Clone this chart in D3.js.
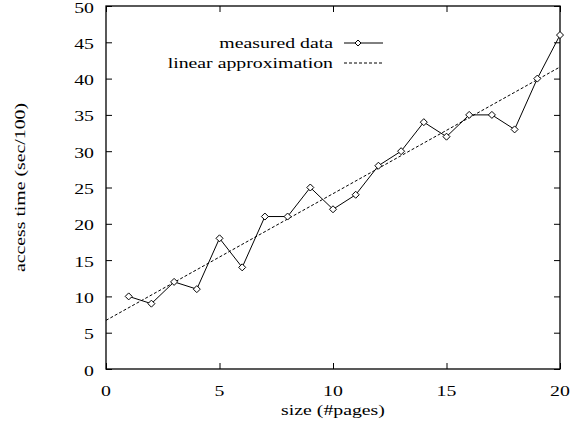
<!DOCTYPE html>
<html>
<head>
<meta charset="utf-8">
<script src="https://cdn.jsdelivr.net/npm/d3@7"></script>
<style>
  body { margin: 0; background: #fff; }
  text { font-family: "Liberation Serif", "DejaVu Serif", serif; fill: #000; }
</style>
</head>
<body>
<div class="mainDiv"></div>
<script>
// data
const pages = [1,2,3,4,5,6,7,8,9,10,11,12,13,14,15,16,17,18,19,20];
const accessTime = [10,9,12,11,18,14,21,21,25,22,24,28,30,34,32,35,35,33,40,46];
const fitX = [0, 20];
const fitY = [6.7, 41.6];
const xTicks = [0,5,10,15,20];
const yTicks = [0,5,10,15,20,25,30,35,40,45,50];
const legendLabels = ["measured data", "linear approximation"];

const W = 570, H = 425;
const margin = {top: 6, right: 10, bottom: 56, left: 106};

const svg = d3.select('.mainDiv').append('svg')
  .attr('width', W).attr('height', H);

const x = d3.scaleLinear().domain([0, 20]).range([margin.left, W - margin.right]);
const y = d3.scaleLinear().domain([0, 50]).range([H - margin.bottom, margin.top]);

const fontSize = 15;
const stretch = 1.32;  // the original font is wide, stretch it horizontally
const tickLen = 6;

// text helper: wide serif text
function label(px, py, str, anchor, rot) {
  return svg.append('text')
    .attr('transform', `translate(${px},${py})` + (rot ? ` rotate(${rot})` : '') + ` scale(${stretch},1)`)
    .attr('text-anchor', anchor)
    .attr('font-size', fontSize)
    .text(str);
}

// axes (gnuplot style: ticks inside, mirrored on all sides)
svg.append('g')
  .attr('transform', `translate(0,${y(0)})`)
  .call(d3.axisBottom(x).tickValues(xTicks).tickSize(-tickLen).tickFormat(''));
svg.append('g')
  .attr('transform', `translate(0,${y(50)})`)
  .call(d3.axisTop(x).tickValues(xTicks).tickSize(-tickLen).tickFormat(''));
svg.append('g')
  .attr('transform', `translate(${x(0)},0)`)
  .call(d3.axisLeft(y).tickValues(yTicks).tickSize(-tickLen).tickFormat(''));
svg.append('g')
  .attr('transform', `translate(${x(20)},0)`)
  .call(d3.axisRight(y).tickValues(yTicks).tickSize(-tickLen).tickFormat(''));
svg.selectAll('.domain').remove();
svg.selectAll('.tick line').attr('stroke', '#000');

// tick labels
xTicks.forEach(v => label(x(v), 396, v, 'middle'));
yTicks.forEach(v => label(94, y(v) + 6.5, v, 'end'));

// frame
svg.append('rect')
  .attr('x', x(0)).attr('y', y(50))
  .attr('width', x(20) - x(0)).attr('height', y(0) - y(50))
  .attr('fill', 'none').attr('stroke', '#000').attr('stroke-width', 1.3);

// axis titles
label(x(10), 415, 'size (#pages)', 'middle');
label(25, (y(0) + y(50)) / 2, 'access time (sec/100)', 'middle', -90);

// linear approximation
const line = d3.line().x(d => x(d[0])).y(d => y(d[1]));
svg.append('path')
  .datum(fitX.map((v, i) => [v, fitY[i]]))
  .attr('d', line)
  .attr('fill', 'none').attr('stroke', '#000')
  .attr('stroke-width', 1).attr('stroke-dasharray', '3,2');

// measured data
const pts = pages.map((v, i) => [v, accessTime[i]]);
svg.append('path')
  .datum(pts)
  .attr('d', line)
  .attr('fill', 'none').attr('stroke', '#000').attr('stroke-width', 1);

const diamond = (cx, cy, r) =>
  `M${cx},${cy - r}L${cx + r},${cy}L${cx},${cy + r}L${cx - r},${cy}Z`;

svg.selectAll('.pt')
  .data(pts)
  .join('path')
  .attr('class', 'pt')
  .attr('d', d => diamond(x(d[0]), y(d[1]), 3.5))
  .attr('fill', '#fff').attr('stroke', '#000').attr('stroke-width', 1);

// legend
const legX = 333, legY = [43, 63];
legendLabels.forEach((lab, i) => {
  label(legX, legY[i] + 5, lab, 'end');
  svg.append('line')
    .attr('x1', 344).attr('x2', 383)
    .attr('y1', legY[i]).attr('y2', legY[i])
    .attr('stroke', '#000').attr('stroke-width', 1)
    .attr('stroke-dasharray', i === 1 ? '3,2' : null);
});
svg.append('path')
  .attr('d', diamond(358, legY[0], 3))
  .attr('fill', '#fff').attr('stroke', '#000');
</script>
</body>
</html>
